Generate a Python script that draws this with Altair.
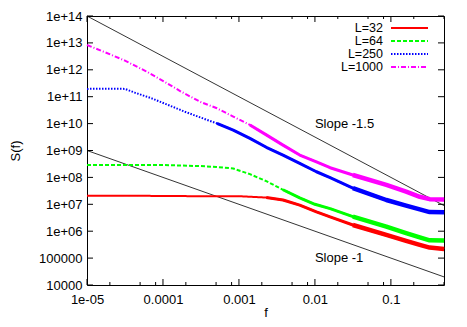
import altair as alt
import pandas as pd

# ---- data (log10 values) ----
SERIES = ["L=32", "L=64", "L=250", "L=1000"]
COLORS = ["#ff0000", "#00ff00", "#0000ff", "#ff00ff"]
DASHES = [[1, 0], [4, 2], [1.5, 1.5], [5, 2, 1, 2]]

LOGF_32 = [-5.0, -4.5, -4.0, -3.5, -3.0, -2.85, -2.64, -2.42, -2.2, -1.98, -1.8, -1.5, -1.06, -0.8, -0.62, -0.49, -0.3]
LOGS_32 = [7.32, 7.32, 7.31, 7.30, 7.30, 7.28, 7.25, 7.16, 6.97, 6.72, 6.53, 6.23, 5.86, 5.64, 5.49, 5.39, 5.34]

LOGF_64 = [-5.0, -4.5, -4.0, -3.5, -3.3, -3.075, -2.855, -2.64, -2.42, -2.2, -2.0, -1.8, -1.5, -1.06, -0.8, -0.62, -0.49, -0.3]
LOGS_64 = [8.46, 8.46, 8.46, 8.42, 8.39, 8.33, 8.12, 7.86, 7.54, 7.24, 7.00, 6.84, 6.54, 6.17, 5.93, 5.77, 5.66, 5.65]

LOGF_250 = [-5.0, -4.76, -4.5, -4.37, -4.15, -3.93, -3.71, -3.51, -3.29, -3.075, -2.855, -2.64, -2.42, -2.2, -1.98, -1.8, -1.5, -1.06, -0.8, -0.62, -0.49, -0.3]
LOGS_250 = [11.29, 11.30, 11.29, 11.15, 10.94, 10.69, 10.44, 10.23, 10.01, 9.76, 9.45, 9.12, 8.83, 8.52, 8.21, 7.99, 7.60, 7.16, 6.95, 6.81, 6.71, 6.70]

LOGF_1000 = [-5.0, -4.76, -4.5, -4.24, -3.97, -3.75, -3.51, -3.29, -3.075, -2.855, -2.64, -2.42, -2.2, -1.98, -1.8, -1.5, -1.06, -0.8, -0.62, -0.49, -0.3]
LOGS_1000 = [12.92, 12.65, 12.34, 11.97, 11.54, 11.17, 10.81, 10.57, 10.26, 9.95, 9.58, 9.20, 8.83, 8.58, 8.36, 8.09, 7.72, 7.47, 7.28, 7.19, 7.18]

SLOPE15_F = [1e-5, 0.5]
SLOPE15_S = [1e14, 8.94e6]
SLOPE1_F = [1e-5, 0.5]
SLOPE1_S = [1e9, 2e4]
SLOPE_LABELS = ["Slope -1.5", "Slope -1"]
SLOPE_LABEL_F = [0.01, 0.01]
SLOPE_LABEL_S = [1e10, 1e5]

X_DOMAIN = [1e-5, 0.5]
Y_DOMAIN = [1e4, 1e14]
X_MAJOR = [1e-5, 1e-4, 1e-3, 1e-2, 1e-1]
X_MINOR = [2e-5, 5e-5, 8e-5, 2e-4, 5e-4, 8e-4, 2e-3, 5e-3, 8e-3, 2e-2, 5e-2, 8e-2, 2e-1, 5e-1]
Y_MAJOR = [1e4, 1e5, 1e6, 1e7, 1e8, 1e9, 1e10, 1e11, 1e12, 1e13, 1e14]

# style: where the (noisy) curves start to look like a thick solid band
NOISY_FROM = [2e-3, 3e-3, 4e-4, 1e-3]
THICK_FROM = 2e-2

W, H = 357, 269
FONT = "Liberation Sans, Arial, sans-serif"

xscale = alt.Scale(type="log", domain=X_DOMAIN, nice=False)
yscale = alt.Scale(type="log", domain=Y_DOMAIN, nice=False)

xaxis = alt.Axis(
    values=X_MAJOR,
    labelExpr="datum.value < 5e-5 ? '1e-05' : datum.value < 5e-4 ? '0.0001' : datum.value < 5e-3 ? '0.001' : datum.value < 5e-2 ? '0.01' : '0.1'",
    ticks=False, tickSize=0, domain=False, grid=False,
    labelPadding=8, labelFont=FONT, labelFontSize=13, labelColor="#000",
    labelFlush=False, labelOverlap=False,
    title="f", titleFont=FONT, titleFontSize=13, titleFontWeight="normal", titleColor="#000",
    titleX=W / 2, titleY=31, titleBaseline="alphabetic", titleAlign="center",
)
yaxis = alt.Axis(
    values=Y_MAJOR,
    labelExpr="round(log(datum.value)/LN10) >= 6 ? '1e+' + (round(log(datum.value)/LN10) < 10 ? '0' : '') + round(log(datum.value)/LN10) : (datum.value > 50000 ? '100000' : '10000')",
    ticks=False, tickSize=0, domain=False, grid=False,
    labelPadding=5, labelFont=FONT, labelFontSize=13, labelColor="#000",
    labelFlush=False, labelOverlap=False,
    title="S(f)", titleFont=FONT, titleFontSize=13, titleFontWeight="normal", titleColor="#000",
    titleX=-72, titleY=H / 2, titleBaseline="middle", titleAlign="center",
)


def X(field):
    return alt.X(f"{field}:Q", scale=xscale, axis=xaxis)


def Y(field):
    return alt.Y(f"{field}:Q", scale=yscale, axis=yaxis)


layers = []

# slope reference lines
for fs, ss in [(SLOPE15_F, SLOPE15_S), (SLOPE1_F, SLOPE1_S)]:
    df = pd.DataFrame({"f": fs, "S": ss})
    layers.append(
        alt.Chart(df).mark_line(color="#000", strokeWidth=0.8)
        .encode(x=X("f"), y=Y("S"))
    )

# data curves
for name, lf, ls, col, dash, nf in zip(
    SERIES,
    [LOGF_32, LOGF_64, LOGF_250, LOGF_1000],
    [LOGS_32, LOGS_64, LOGS_250, LOGS_1000],
    COLORS, DASHES, NOISY_FROM,
):
    df = pd.DataFrame({"f": [10 ** v for v in lf], "S": [10 ** v for v in ls]})
    layers.append(
        alt.Chart(df).mark_line(color=col, strokeDash=dash, strokeWidth=2)
        .encode(x=X("f"), y=Y("S"), order=alt.Order("f:Q"))
    )
    layers.append(
        alt.Chart(df[df["f"] >= nf]).mark_line(color=col, strokeWidth=3, strokeJoin="round")
        .encode(x=X("f"), y=Y("S"), order=alt.Order("f:Q"))
    )
    layers.append(
        alt.Chart(df[df["f"] >= THICK_FROM]).mark_line(color=col, strokeWidth=4.5, strokeJoin="round")
        .encode(x=X("f"), y=Y("S"), order=alt.Order("f:Q"))
    )

lab_df = pd.DataFrame({"f": SLOPE_LABEL_F, "S": SLOPE_LABEL_S, "t": SLOPE_LABELS})
layers.append(
    alt.Chart(lab_df).mark_text(align="left", baseline="middle", font=FONT, fontSize=13, color="#000")
    .encode(x=X("f"), y=Y("S"), text="t:N")
)

# inward tick marks (gnuplot style) on all four sides
xmaj = pd.DataFrame({"v": X_MAJOR})
xmin = pd.DataFrame({"v": X_MINOR})
ymaj = pd.DataFrame({"v": Y_MAJOR})
for d, size in [(xmaj, 6), (xmin, 3)]:
    layers.append(alt.Chart(d).mark_rule(color="#000", strokeWidth=1)
                  .encode(x=X("v"), y=alt.value(H), y2=alt.value(H - size)))
    layers.append(alt.Chart(d).mark_rule(color="#000", strokeWidth=1)
                  .encode(x=X("v"), y=alt.value(0), y2=alt.value(size)))
layers.append(alt.Chart(ymaj).mark_rule(color="#000", strokeWidth=1)
              .encode(y=Y("v"), x=alt.value(0), x2=alt.value(6)))
layers.append(alt.Chart(ymaj).mark_rule(color="#000", strokeWidth=1)
              .encode(y=Y("v"), x=alt.value(W), x2=alt.value(W - 6)))

# key (top right, labels left of line samples)
one = pd.DataFrame({"a": [0]})
for i, (name, col, dash) in enumerate(zip(SERIES, COLORS, DASHES)):
    ly = 12 + 13 * i
    layers.append(alt.Chart(one).mark_text(text=name, align="right", baseline="middle",
                                           font=FONT, fontSize=12.5, color="#000")
                  .encode(x=alt.value(296), y=alt.value(ly)))
    layers.append(alt.Chart(one).mark_rule(color=col, strokeDash=dash, strokeWidth=2)
                  .encode(x=alt.value(304), x2=alt.value(341), y=alt.value(ly)))

chart = (
    alt.layer(*layers)
    .properties(
        width=W, height=H,
        autosize=alt.AutoSizeParams(type="none"),
        padding={"left": 79, "top": 8, "right": 15, "bottom": 34},
        background="#ffffff",
    )
    .configure_view(stroke="#000", strokeWidth=1)
)

chart.save("out.html", embed_options={"renderer": "svg", "actions": False})
